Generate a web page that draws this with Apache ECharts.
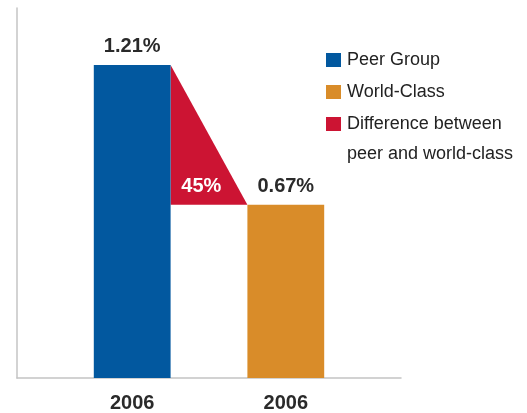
<!DOCTYPE html>
<html>
<head>
<meta charset="utf-8">
<script src="https://cdn.jsdelivr.net/npm/echarts@6/dist/echarts.min.js"></script>
<style>
  html, body { margin: 0; padding: 0; background: #fff; }
  #chart { width: 527px; height: 413px; }
</style>
</head>
<body>
<div id="chart"></div>
<script>
// slots on the x axis: padding, peer bar, gap (triangle), world bar, padding
const categories = ["pad0", "peer", "gap", "world", "pad1"];
const xLabels = ["", "2006", "", "2006", ""];
const peerGroup = ["-", 1.21, "-", "-", "-"];
const worldClass = ["-", "-", "-", 0.67, "-"];
// [from slot, to slot, peer value, world value]
const difference = [[1, 3, 1.21, 0.67]];
const differenceLabel = ["45%"];
const seriesNames = ["Peer Group", "World-Class", "Difference between"];

const chart = echarts.init(document.getElementById("chart"));
const font = "'Liberation Sans', Arial, sans-serif";

const option = {
  animation: false,
  textStyle: { fontFamily: font },
  grid: { left: 17, right: 126, top: 8, bottom: 35 },
  legend: {
    orient: "vertical",
    left: 326,
    top: 51,
    padding: 0,
    icon: "rect",
    itemWidth: 15,
    itemHeight: 14,
    itemGap: 14,
    data: seriesNames,
    textStyle: { fontSize: 18, color: "#222", fontFamily: font, padding: [0, 0, 0, 1] },
  },
  graphic: [
    {
      type: "text",
      left: 347,
      top: 145,
      style: { text: "peer and world-class", fontSize: 18, fill: "#222", fontFamily: font },
    },
  ],
  xAxis: {
    type: "category",
    data: categories,
    axisLine: { lineStyle: { color: "#c4c4c4", width: 1.5 } },
    axisTick: { show: false },
    axisLabel: {
      interval: 0,
      margin: 15,
      fontSize: 20,
      fontWeight: "bold",
      color: "#2a2a2a",
      fontFamily: font,
      formatter: (v, i) => xLabels[i],
    },
  },
  yAxis: {
    type: "value",
    min: 0,
    max: 1.43,
    axisLine: { show: true, lineStyle: { color: "#c4c4c4", width: 1.5 } },
    axisTick: { show: false },
    axisLabel: { show: false },
    splitLine: { show: false },
  },
  series: [
    {
      name: seriesNames[0],
      type: "bar",
      data: peerGroup,
      barWidth: "100%",
      barGap: "-100%",
      itemStyle: { color: "#02589f" },
      label: {
        show: true,
        position: "top",
        distance: 8,
        fontSize: 20,
        fontWeight: "bold",
        color: "#2a2a2a",
        fontFamily: font,
        formatter: (p) => p.value.toFixed(2) + "%",
      },
    },
    {
      name: seriesNames[1],
      type: "bar",
      data: worldClass,
      barWidth: "100%",
      barGap: "-100%",
      itemStyle: { color: "#d98c29" },
      label: {
        show: true,
        position: "top",
        distance: 8,
        fontSize: 20,
        fontWeight: "bold",
        color: "#2a2a2a",
        fontFamily: font,
        formatter: (p) => p.value.toFixed(2) + "%",
      },
    },
    {
      name: seriesNames[2],
      type: "custom",
      data: difference,
      encode: { x: [0, 1], y: [2, 3] },
      itemStyle: { color: "#cc1433" },
      renderItem: function (params, api) {
        const w = api.size([1, 0])[0];
        const a = api.coord([api.value(0), api.value(2)]);
        const b = api.coord([api.value(1), api.value(3)]);
        const x0 = a[0] + w / 2;
        const x1 = b[0] - w / 2;
        return {
          type: "group",
          children: [
            {
              type: "polygon",
              shape: { points: [[x0, a[1]], [x0, b[1]], [x1, b[1]]] },
              style: { fill: api.visual("color") },
            },
            {
              type: "text",
              style: {
                text: differenceLabel[params.dataIndex],
                x: x0 + (x1 - x0) * 0.4,
                y: b[1] - 18,
                align: "center",
                verticalAlign: "middle",
                fontSize: 20,
                fontWeight: "bold",
                fill: "#fff",
                fontFamily: font,
              },
            },
          ],
        };
      },
    },
  ],
};

chart.setOption(option);
</script>
</body>
</html>
